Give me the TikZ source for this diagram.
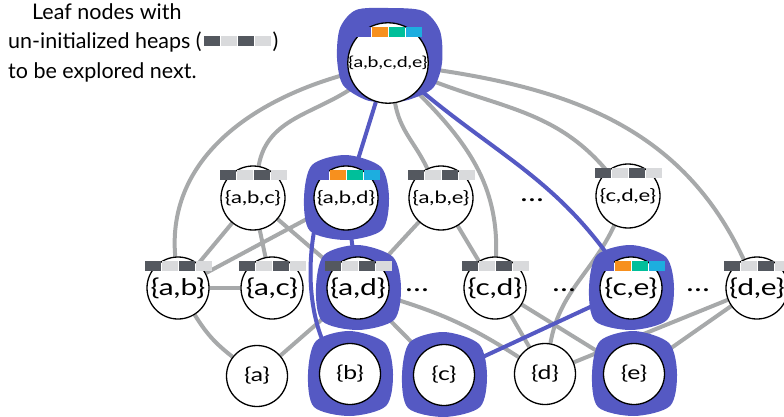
\documentclass[tikz,border=0pt]{standalone}
\usepackage{fontspec}
\setmainfont{Lato}
\newfontfamily\setfont[FakeStretch=1.3]{Lato}
\usetikzlibrary{calc}
\definecolor{hl}{RGB}{85, 89, 195}
\definecolor{edge}{RGB}{167, 169, 170}
\definecolor{heapdark}{RGB}{84, 88, 95}
\definecolor{heaplight}{RGB}{217, 218, 220}
\definecolor{heaporange}{RGB}{247, 144, 30}
\definecolor{heapteal}{RGB}{0, 191, 154}
\definecolor{heapcyan}{RGB}{29, 174, 223}

\pgfdeclarelayer{edges}
\pgfdeclarelayer{blobs}
\pgfsetlayers{edges,blobs,main}

% four little boxes sitting on top of a set node
\newcommand{\heapbar}[2]{%
  \foreach \col [count=\i] in {#2} {
    \fill[\col] ($(#1.north)+({-33.5+17*(\i-1)},-5)$) rectangle +(16,-10);
  }
}
\newcommand{\heapicon}{%
  \textcolor{heapdark}{\rule[3pt]{16pt}{10pt}}\kern1pt%
  \textcolor{heaplight}{\rule[3pt]{16pt}{10pt}}\kern1pt%
  \textcolor{heapdark}{\rule[3pt]{16pt}{10pt}}\kern1pt%
  \textcolor{heaplight}{\rule[3pt]{16pt}{10pt}}}

\begin{document}
\begin{tikzpicture}[x=1pt, y=1pt,
  set/.style={circle, draw=black, line width=1.3pt, fill=white, inner sep=0pt},
  full/.style={set, minimum size=76pt, font=\setfont\fontsize{15}{15}\selectfont},
  triple/.style={set, minimum size=64pt, font=\setfont\fontsize{17}{17}\selectfont},
  pair/.style={set, minimum size=62pt, font=\setfont\fontsize{23}{23}\selectfont},
  single/.style={set, minimum size=61pt, font=\setfont\fontsize{19}{19}\selectfont},
  more/.style={font=\setfont\fontsize{24}{24}\selectfont},
  link/.style={edge, line width=4pt},
  chosen/.style={hl, line width=4pt}]

  \useasboundingbox (0, 0) rectangle (784, -417);

  \node[anchor=north west, align=left, inner sep=0pt,
    font=\fontsize{21.5}{29.5}\selectfont] (note) at (8, -3)
    {\hspace*{24pt}Leaf nodes with\\un-initialized heaps (\kern2pt\heapicon\kern2pt)\\to be explored next.};

  % the lattice of subsets
  \node[full] (abcde) at (388, -63) {\{a,b,c,d,e\}};

  \node[triple] (abc) at (253, -198) {\{a,b,c\}};
  \node[triple] (abd) at (346, -198) {\{a,b,d\}};
  \node[triple] (abe) at (441, -198) {\{a,b,e\}};
  \node[more] (dots0) at (532, -200) {\dots};
  \node[triple] (cde) at (628, -196) {\{c,d,e\}};

  \node[pair] (ab) at (178, -288) {\{a,b\}};
  \node[pair] (ac) at (272, -288) {\{a,c\}};
  \node[pair] (ad) at (358, -288) {\{a,d\}};
  \node[more] (dots1) at (417, -290) {\dots};
  \node[pair] (cd) at (495, -288) {\{c,d\}};
  \node[more] (dots2) at (564, -290) {\dots};
  \node[pair] (ce) at (631, -288) {\{c,e\}};
  \node[more] (dots3) at (698, -290) {\dots};
  \node[pair] (de) at (757, -288) {\{d,e\}};

  \node[single] (a) at (257, -376) {\{a\}};
  \node[single] (b) at (350, -374) {\{b\}};
  \node[single] (c) at (444, -375) {\{c\}};
  \node[single] (d) at (545, -374) {\{d\}};
  \node[single] (e) at (634, -374) {\{e\}};

  \begin{pgfonlayer}{edges}
    \draw[link] (abcde) to[out=195, in=95] (ab);
    \draw[link] (abcde) to[out=215, in=80] (abc);
    \draw[link] (abcde) to[out=-80, in=115] (abe);
    \draw[link] (abcde) to[out=-45, in=88] (cd);
    \draw[link] (abcde) to[out=-22, in=130] (cde);
    \draw[link] (abcde) to[out=-8, in=115] (de);
    \draw[link] (abc) -- (ab);
    \draw[link] (abc) -- (ac);
    \draw[link] (abc) -- (ad);
    \draw[link] (ab) -- (abd);
    \draw[link] (abe) -- (ad);
    \draw[link] (abe) -- (cd);
    \draw[link] (cde) to[out=-115, in=80] (d);
    \draw[link] (ab) -- (ac);
    \draw[link] (ab) to[bend right=10] (a);
    \draw[link] (a) -- (ad);
    \draw[link] (ad) -- (c);
    \draw[link] (ad) to[bend left=8] (d);
    \draw[link] (cd) -- (d);
    \draw[link] (cd) -- (e);
    \draw[link] (de) -- (d);
    \draw[link] (de) -- (e);

    % explored path
    \draw[chosen] (abcde) -- (abd);
    \draw[chosen] (abcde) to[out=-40, in=125] (ce);
    \draw[chosen] (abd) -- (ad);
    \draw[chosen] (abd.-150) .. controls (306, -260) and (308, -315) .. (b.135);
    \draw[chosen] (c) -- (ce);
  \end{pgfonlayer}

  \begin{pgfonlayer}{blobs}
    \begin{scope}[shift={(abcde.center)}]
      \fill[hl] plot[smooth cycle] coordinates {(0, 55) (35, 52) (52, 32) (54, 0)
        (45, -25) (20, -37) (0, -39) (-22, -37) (-45, -22) (-51, 5) (-48, 35) (-32, 53)};
    \end{scope}
    \foreach \n in {abd, ad, b, c, ce, e} {
      \begin{scope}[shift={(\n.center)}]
        \fill[hl] plot[smooth cycle] coordinates {(43, 0) (35, 31) (0, 43) (-34, 33)
          (-42, 0) (-36, -33) (0, -42) (36, -32)};
      \end{scope}
    }
  \end{pgfonlayer}

  % heaps
  \heapbar{abcde}{hl, heaporange, heapteal, heapcyan}
  \heapbar{abd}{hl, heaporange, heapteal, heapcyan}
  \heapbar{ce}{hl, heaporange, heapteal, heapcyan}
  \foreach \n in {abc, abe, cde, ab, ac, ad, cd, de} {
    \heapbar{\n}{heapdark, heaplight, heapdark, heaplight}
  }

\end{tikzpicture}
\end{document}
